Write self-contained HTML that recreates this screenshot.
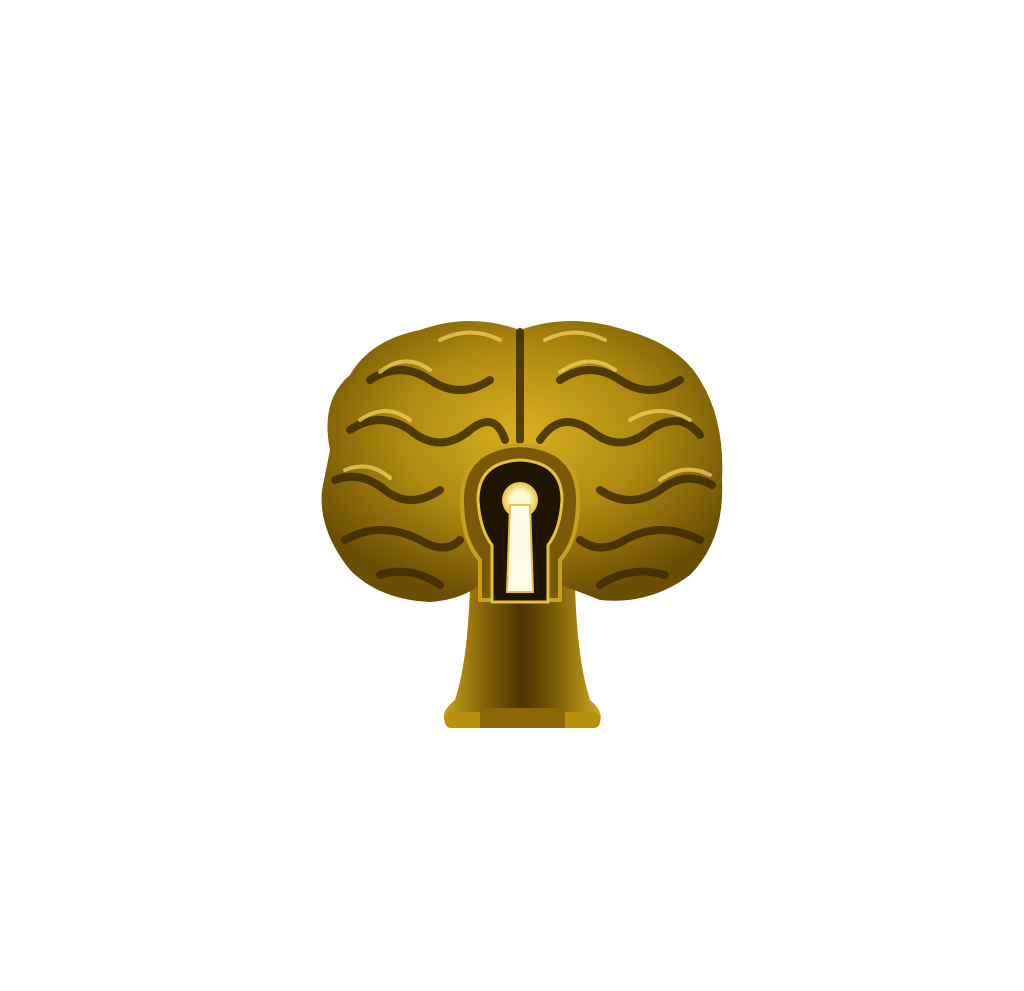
<!DOCTYPE html>
<html><head><meta charset="utf-8"><style>html,body{margin:0;padding:0;background:#fff;width:1024px;height:991px;overflow:hidden}</style></head>
<body>
<svg width="1024" height="991" viewBox="0 0 1024 991" xmlns="http://www.w3.org/2000/svg">
<defs>
<radialGradient id="g" cx="50%" cy="40%" r="60%">
<stop offset="0" stop-color="#d8b020"/><stop offset="0.5" stop-color="#b08a10"/><stop offset="1" stop-color="#6a4e04"/>
</radialGradient>
<linearGradient id="s" x1="0" x2="1">
<stop offset="0" stop-color="#c9a018"/><stop offset="0.3" stop-color="#7a5a06"/><stop offset="0.5" stop-color="#4a3403"/><stop offset="0.7" stop-color="#7a5a06"/><stop offset="1" stop-color="#d0a820"/>
</linearGradient>
<radialGradient id="k" cx="50%" cy="50%" r="50%">
<stop offset="0.5" stop-color="#fff8d0"/><stop offset="1" stop-color="#e8c040"/>
</radialGradient>
</defs>
<path d="M470 585 Q468 660 455 700 Q440 712 445 722 L600 722 Q604 712 590 700 Q577 660 575 585 Z" fill="url(#s)"/>
<rect x="445" y="712" width="155" height="16" rx="6" fill="#b8900e"/>
<rect x="480" y="708" width="85" height="20" fill="#8a6806"/>
<path d="M330 450 Q320 400 350 375 Q370 340 420 330 Q470 312 520 330 Q570 312 625 330 Q680 345 700 380 Q725 420 722 480 Q725 540 690 575 Q650 605 600 600 Q575 590 560 585 L480 585 Q460 600 430 602 Q380 600 350 570 Q318 530 322 490 Z" fill="url(#g)"/>
<g fill="none" stroke="#3e2c02" stroke-width="8" stroke-linecap="round" opacity="0.85">
<path d="M520 332 L520 440"/>
<path d="M370 380 Q400 360 430 380 Q460 400 490 380"/>
<path d="M350 430 Q380 410 410 430 Q440 455 470 430 Q495 410 505 440"/>
<path d="M335 480 Q360 470 385 490 Q410 510 440 490"/>
<path d="M345 540 Q380 520 420 540 Q445 555 460 540"/>
<path d="M380 575 Q410 565 440 585"/>
<path d="M560 380 Q590 360 620 380 Q650 400 680 380"/>
<path d="M540 440 Q560 410 590 430 Q620 455 650 430 Q680 410 700 435"/>
<path d="M600 490 Q630 510 660 490 Q685 470 712 485"/>
<path d="M580 540 Q600 555 625 540 Q660 520 700 540"/>
<path d="M600 585 Q630 565 665 575"/>
</g>
<g fill="none" stroke="#f0d060" stroke-width="4" opacity="0.75" stroke-linecap="round">
<path d="M380 372 Q405 352 430 370"/>
<path d="M560 372 Q590 352 615 370"/>
<path d="M360 420 Q385 402 410 420"/>
<path d="M630 420 Q660 402 690 420"/>
<path d="M345 470 Q370 460 390 478"/>
<path d="M660 480 Q685 462 710 475"/>
<path d="M440 340 Q470 325 500 340"/>
<path d="M545 340 Q575 325 605 340"/>
</g>
<path d="M462 500 Q462 448 520 445 Q578 448 578 500 Q578 540 560 560 L560 600 L480 600 L480 560 Q462 540 462 500 Z" fill="#7a5a08" stroke="#c8a020" stroke-width="4"/>
<path d="M478 500 Q478 462 520 460 Q562 462 562 500 Q560 530 548 545 L548 602 L492 602 L492 545 Q480 530 478 500 Z" fill="#1e1400" stroke="#e8c040" stroke-width="3"/>
<circle cx="520" cy="500" r="18" fill="url(#k)"/>
<path d="M510 505 L530 505 L533 592 L507 592 Z" fill="#fffbe8" stroke="#e8c040" stroke-width="2"/>
</svg>
</body></html>
